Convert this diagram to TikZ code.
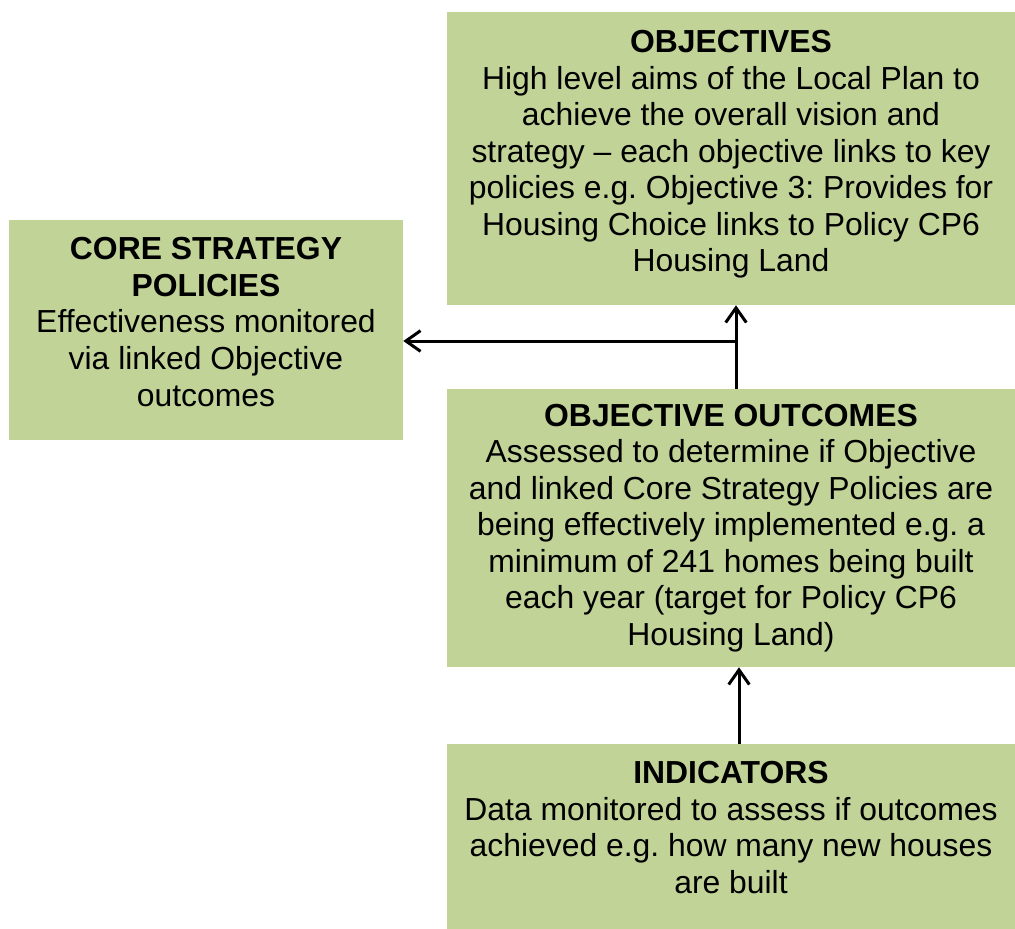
\documentclass[tikz,border=0pt]{standalone}
\usepackage{fontspec}
\setmainfont{Liberation Sans}
\usepackage{tikz}
\usetikzlibrary{arrows.meta,positioning,calc}
\definecolor{boxgreen}{RGB}{194,211,152}
\frenchspacing

\begin{document}
\begin{tikzpicture}[x=0.75pt, y=-0.75pt,
        box/.style={rectangle, fill=boxgreen, inner sep=0pt},
        boxtext/.style={align=center, inner sep=0pt, font=\fontsize{23.9}{27.4}\selectfont},
        link/.style={draw=black, line width=2.25pt, -{Straight Barb[length=11pt,width=15.5pt]}}]
        \useasboundingbox (0,0) rectangle (1015,929);
        % boxes
        \node[box, minimum width=426pt, minimum height=219.75pt] (objectives) at (731,158.5) {};
        \node[box, minimum width=295.5pt, minimum height=165pt] (core) at (206,330) {};
        \node[box, minimum width=426pt, minimum height=208.5pt] (outcomes) at (731,528) {};
        \node[box, minimum width=426pt, minimum height=138.75pt] (indicators) at (731,836.5) {};
        % texts
        \node[boxtext] (objectives-text) at ([yshift=3pt]objectives.center)
            {\textbf{OBJECTIVES}\\High level aims of the Local Plan to\\achieve the overall vision and\\strategy -- each objective links to key\\policies e.g. Objective 3: Provides for\\Housing Choice links to Policy CP6\\Housing Land};
        \node[boxtext] (core-text) at ([yshift=6pt]core.center)
            {\textbf{CORE STRATEGY}\\\textbf{POLICIES}\\Effectiveness monitored\\via linked Objective\\outcomes};
        \node[boxtext] (outcomes-text) at (outcomes.center)
            {\textbf{OBJECTIVE OUTCOMES}\\Assessed to determine if Objective\\and linked Core Strategy Policies are\\being effectively implemented e.g. a\\minimum of 241 homes being built\\each year (target for Policy CP6\\Housing Land)};
        \node[boxtext] (indicators-text) at ([yshift=6.75pt]indicators.center)
            {\textbf{INDICATORS}\\Data monitored to assess if outcomes\\achieved e.g. how many new houses\\are built};
        % arrows
        \coordinate (junction) at (736,341);
        \draw[link] ([xshift=3.75pt]outcomes.north) -- ([xshift=3.75pt]objectives.south);
        \draw[link] (junction) -- (core.east |- junction);
        \draw[link] ([xshift=6pt]indicators.north) -- ([xshift=6pt]outcomes.south);
    \end{tikzpicture}
\end{document}
